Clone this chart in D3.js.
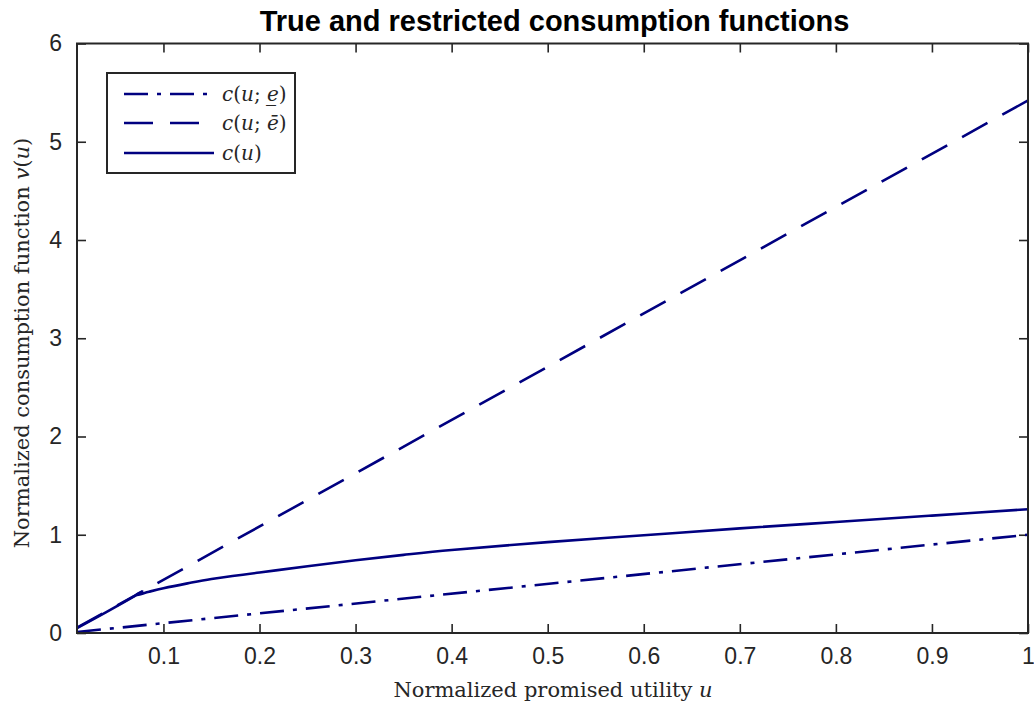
<!DOCTYPE html>
<html lang="en">
<head>
<meta charset="UTF-8">
<title>True and restricted consumption functions</title>
<script src="https://cdn.jsdelivr.net/npm/d3@7/dist/d3.min.js"></script>
<style>
  body { margin: 0; background: #fff; }
  svg { display: block; }
</style>
</head>
<body>
<svg width="1034" height="711"></svg>
<script>
// data
var lowerU = [0.01, 1.0];
var lowerC = [0.01, 1.0];
var upperU = [0.01, 1.0];
var upperC = [0.054, 5.42];
var trueU = [0.01, 0.04, 0.068, 0.078, 0.071, 0.085, 0.1, 0.125, 0.15, 0.2, 0.25, 0.3, 0.35, 0.4, 0.5, 0.6, 0.7, 0.8, 0.9, 1.0];
var trueC = [0.05, 0.21, 0.365, 0.425, 0.385, 0.42, 0.455, 0.505, 0.55, 0.615, 0.68, 0.74, 0.795, 0.845, 0.925, 0.995, 1.065, 1.13, 1.195, 1.26];
var xTicks = [0.1, 0.2, 0.3, 0.4, 0.5, 0.6, 0.7, 0.8, 0.9, 1];
var yTicks = [0, 1, 2, 3, 4, 5, 6];

var svg = d3.select("svg");
var plotL = 77, plotR = 1028, plotT = 43.5, plotB = 633;
var axisColor = "#262626", lineColor = "#000080";

var x = d3.scaleLinear().domain([0.01, 1]).range([plotL, plotR]);
var y = d3.scaleLinear().domain([0, 6]).range([plotB, plotT]);

// title
svg.append("text")
    .attr("x", (plotL + plotR) / 2 + 2).attr("y", 31)
    .attr("text-anchor", "middle")
    .style("font-family", "Liberation Sans, Arial, sans-serif")
    .style("font-weight", "bold").style("font-size", "29px")
    .text("True and restricted consumption functions");

// axes: ticks inside, box on all sides
var tickLen = 9;
var fmt = function(d) { return d === 1 ? "1" : d3.format(".1f")(d); };
function styleAxis(g) {
    g.select(".domain").remove();
    g.selectAll(".tick line").attr("stroke", axisColor).attr("stroke-width", 1.6);
    g.selectAll(".tick text").attr("fill", axisColor)
        .style("font-family", "Liberation Sans, Arial, sans-serif").style("font-size", "23px");
}
svg.append("g").attr("transform", "translate(0," + plotB + ")")
    .call(d3.axisTop(x).tickValues(xTicks).tickSize(tickLen).tickFormat(""))
    .call(styleAxis);
svg.append("g").attr("transform", "translate(0," + plotB + ")")
    .call(d3.axisBottom(x).tickValues(xTicks).tickSize(0).tickPadding(15).tickFormat(fmt))
    .call(styleAxis);
svg.append("g").attr("transform", "translate(0," + plotT + ")")
    .call(d3.axisBottom(x).tickValues(xTicks).tickSize(tickLen).tickFormat(""))
    .call(styleAxis);
svg.append("g").attr("transform", "translate(" + plotL + ",0)")
    .call(d3.axisRight(y).tickValues(yTicks).tickSize(tickLen).tickFormat(""))
    .call(styleAxis);
svg.append("g").attr("transform", "translate(" + plotL + ",0)")
    .call(d3.axisLeft(y).tickValues(yTicks).tickSize(0).tickPadding(15).tickFormat(d3.format("d")))
    .call(styleAxis);
svg.append("g").attr("transform", "translate(" + plotR + ",0)")
    .call(d3.axisLeft(y).tickValues(yTicks).tickSize(tickLen).tickFormat(""))
    .call(styleAxis);

// lines
var line = d3.line()
    .x(function(d) { return x(d[0]); })
    .y(function(d) { return y(d[1]); })
    .curve(d3.curveCatmullRom.alpha(0.5));
function pairs(us, cs) { return us.map(function(u, i) { return [u, cs[i]]; }); }

var series = [
    { pts: pairs(lowerU, lowerC), dash: "24,9,4,9" },
    { pts: pairs(upperU, upperC), dash: "29,17" },
    { pts: pairs(trueU, trueC), dash: null }
];
svg.append("g").selectAll("path").data(series).enter().append("path")
    .attr("d", function(d) { return line(d.pts); })
    .attr("fill", "none")
    .attr("stroke", lineColor)
    .attr("stroke-width", 2.6)
    .attr("stroke-dasharray", function(d) { return d.dash; });

// box
svg.append("rect")
    .attr("x", plotL).attr("y", plotT)
    .attr("width", plotR - plotL).attr("height", plotB - plotT)
    .attr("fill", "none").attr("stroke", axisColor).attr("stroke-width", 2);

// axis labels
var serif = "DejaVu Serif, Liberation Serif, serif";
var xl = svg.append("text")
    .attr("x", 553).attr("y", 697)
    .attr("text-anchor", "middle")
    .style("font-family", serif).style("font-size", "21px").attr("fill", "#262626");
xl.append("tspan").text("Normalized promised utility ");
xl.append("tspan").style("font-style", "italic").text("u");

var yl = svg.append("text")
    .attr("transform", "translate(29,343) rotate(-90)")
    .attr("text-anchor", "middle")
    .style("font-family", serif).style("font-size", "21px").attr("fill", "#262626");
yl.append("tspan").text("Normalized consumption function ");
yl.append("tspan").style("font-style", "italic").text("v");
yl.append("tspan").text("(");
yl.append("tspan").style("font-style", "italic").text("u");
yl.append("tspan").text(")");

// legend
var legend = svg.append("g");
legend.append("rect")
    .attr("x", 107).attr("y", 73).attr("width", 188).attr("height", 100)
    .attr("fill", "#fff").attr("stroke", axisColor).attr("stroke-width", 2);
var legendRows = [
    { y: 94, dash: "24,9,4,9", mid: "e\u0332" },
    { y: 123, dash: "29,17", mid: "\u0113" },
    { y: 153, dash: null, mid: null }
];
legendRows.forEach(function(r) {
    legend.append("line")
        .attr("x1", 124).attr("x2", 214).attr("y1", r.y).attr("y2", r.y)
        .attr("stroke", lineColor).attr("stroke-width", 2.6)
        .attr("stroke-dasharray", r.dash);
    var t = legend.append("text")
        .attr("x", 222).attr("y", r.y + 7)
        .style("font-family", serif).style("font-size", "20px").attr("fill", "#262626");
    t.append("tspan").style("font-style", "italic").text("c");
    t.append("tspan").text("(");
    t.append("tspan").style("font-style", "italic").text("u");
    if (r.mid) {
        t.append("tspan").text("; ");
        t.append("tspan").style("font-style", "italic").text(r.mid);
    }
    t.append("tspan").text(")");
});
</script>
</body>
</html>
